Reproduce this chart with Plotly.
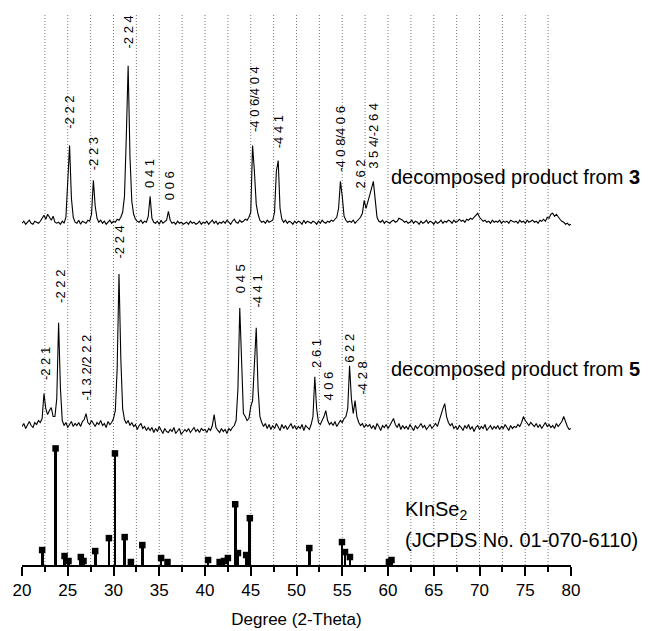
import numpy as np
import plotly.graph_objects as go

# ---------------- data ----------------
two_theta = np.round(np.arange(20.0, 80.001, 0.2), 1)

# pattern of decomposed product from 3 (intensity, arbitrary units)
product3 = [
    3, 5, 2, 4, 6, 3, 2, 5, 4, 3,            # 20.0-21.8
    5, 8, 11, 7, 12, 9, 6, 10, 4, 3,         # 22.0-23.8
    4, 2, 5, 3, 9, 45, 81, 28, 9, 4,         # 24.0-25.8
    3, 6, 2, 5, 4, 3, 6, 5, 12, 46,          # 26.0-27.8
    20, 8, 4, 6, 3, 5, 2, 4, 6, 3,           # 28.0-29.8
    5, 4, 7, 6, 9, 14, 30, 90, 161, 70,      # 30.0-31.8
    25, 12, 7, 5, 4, 6, 3, 5, 4, 10,         # 32.0-33.8
    30, 8, 4, 3, 5, 2, 6, 3, 5, 6,           # 34.0-35.8
    15, 6, 3, 4, 2, 5, 3, 4, 2, 3,           # 36.0-37.8
    4, 2, 5, 3, 4, 2, 3, 5, 2, 4,            # 38.0-39.8
    3, 5, 2, 4, 6, 3, 5, 2, 4, 3,            # 40.0-41.8
    5, 3, 6, 4, 2, 5, 7, 4, 3, 6,            # 42.0-43.8
    4, 5, 7, 6, 9, 14, 81, 55, 22, 12,       # 44.0-45.8
    6, 4, 5, 3, 6, 4, 5, 6, 14, 55,          # 46.0-47.8
    66, 18, 7, 4, 6, 3, 5, 4, 2, 5,          # 48.0-49.8
    3, 5, 4, 2, 6, 3, 5, 4, 3, 5,            # 50.0-51.8
    4, 2, 5, 3, 6, 4, 3, 5, 4, 6,            # 52.0-53.8
    5, 7, 9, 18, 45, 30, 10, 6, 4, 5,        # 54.0-55.8
    4, 6, 3, 5, 7, 9, 13, 26, 18, 24,        # 56.0-57.8
    30, 38, 45, 25, 9, 5, 4, 6, 3, 5,        # 58.0-59.8
    4, 3, 5, 6, 4, 5, 8, 7, 6, 4,            # 60.0-61.8
    5, 3, 4, 6, 3, 5, 4, 2, 5, 3,            # 62.0-63.8
    4, 6, 3, 5, 4, 2, 5, 3, 4, 6,            # 64.0-65.8
    3, 5, 4, 6, 5, 3, 6, 4, 5, 7,            # 66.0-67.8
    5, 6, 4, 7, 6, 8, 7, 9, 11, 13,          # 68.0-69.8
    9, 7, 5, 6, 4, 5, 3, 6, 4, 5,            # 70.0-71.8
    4, 6, 3, 5, 4, 5, 3, 6, 5, 4,            # 72.0-73.8
    5, 3, 6, 4, 5, 3, 6, 4, 5, 6,            # 74.0-75.8
    4, 5, 3, 6, 5, 7, 5, 9, 8, 12,           # 76.0-77.8
    13, 10, 12, 9, 7, 5, 4, 2, 3, 1,         # 78.0-79.8
    2,                                       # 80.0
]

# pattern of decomposed product from 5
product5 = [
    2, 5, 0, 4, 7, 3, 1, 6, 4, 8,            # 20.0
    6, 10, 35, 20, 14, 18, 21, 12, 12, 30,   # 22.0
    106, 40, 8, 3, 6, 1, 4, 7, 2, 5,         # 24.0
    3, 6, 2, 7, 9, 15, 6, 4, 8, 5,           # 26.0
    2, 6, 4, 8, 3, 5, 1, 7, 4, 6,            # 28.0
    10, 18, 60, 155, 70, 20, 9, 5, 8, 3,     # 30.0
    6, 2, 4, -1, 3, 5, 0, 2, -2, 1,          # 32.0
    -2, 1, -4, 0, -3, 2, -1, -5, 0, -3,      # 34.0
    -4, -1, -3, 1, -5, -2, 0, -6, -3, -1,    # 36.0
    -3, 0, -4, -2, 1, -3, -1, -4, 0, -2,     # 38.0
    -1, -4, 0, -2, 3, 14, 1, -2, -4, 0,      # 40.0
    -3, -1, -5, 0, -2, 1, 3, 8, 40, 121,     # 42.0
    60, 15, 12, 8, 10, 22, 28, 60, 101, 40,  # 44.0
    12, 6, 2, 5, 0, 4, -1, 3, 0, 5,          # 46.0
    1, -2, 4, 0, 3, -1, 2, 5, 0, 3,          # 48.0
    -1, 2, 0, 4, -2, 3, 1, -1, 4, 12,        # 50.0
    52, 20, 6, 4, 8, 12, 18, 8, 4, 6,        # 52.0
    3, 7, 2, 5, 8, 6, 10, 12, 20, 63,        # 54.0
    30, 15, 28, 12, 6, 3, 5, 1, 4, 2,        # 56.0
    4, 0, 3, -1, 5, 2, -2, 3, 1, 4,          # 58.0
    0, 3, 6, 10, 4, 1, 5, -1, 3, 0,          # 60.0
    2, -1, 4, 1, -2, 3, 0, 2, 5, 1,          # 62.0
    3, -1, 2, 4, 0, 3, 5, 2, 9, 14,          # 64.0
    20, 25, 12, 6, 3, 5, 0, 2, -1, 3,        # 66.0
    1, -2, 3, 0, 4, -1, 2, -3, 1, 3,         # 68.0
    -1, 2, 0, 4, -2, 1, 3, -1, 2, 0,         # 70.0
    3, -1, 2, 0, 4, 1, -2, 3, 0, 2,          # 72.0
    1, 4, 2, 6, 12, 8, 5, 3, 6, 4,           # 74.0
    2, 5, 1, 4, 0, 3, 6, 2, 4, 1,            # 76.0
    3, 0, 5, 2, 4, 7, 12, 6, 2, -1,          # 78.0
    0,                                       # 80.0
]

# KInSe2 reference (JCPDS No. 01-070-6110)
ref_two_theta = [22.2, 23.67, 24.65, 25.08, 26.43, 26.72, 28.0, 29.5, 30.16,
                 31.22, 31.9, 33.15, 35.2, 35.9, 40.34, 41.6, 42.08, 42.5,
                 43.3, 43.6, 44.5, 44.9, 51.4, 54.97, 55.3, 55.84, 60.1, 60.38]
ref_intensity = [15, 117, 9, 4, 8, 4, 14, 27, 112,
                 28, 3, 20, 7, 3, 5, 3, 4, 7,
                 61, 12, 10, 47, 17, 23, 13, 8, 3, 5]

# peak indexing labels
labels3 = ["-2 2 2", "-2 2 3", "-2 2 4", "0 4 1", "0 0 6", "-4 0 6/4 0 4",
           "-4 4 1", "-4 0 8/4 0 6", "2 6 2", "3 5 4/-2 6 4"]
labels3_x = [25.1, 27.9, 31.6, 34.0, 36.1, 45.4, 48.0, 54.8, 57.0, 58.4]
labels3_y = [437, 395, 517, 377, 365, 434, 417, 394, 377, 397]

labels5 = ["-2 2 1", "-2 2 2", "-1 3 2/2 2 2", "-2 2 4", "0 4 5", "-4 4 1",
           "2 6 1", "4 0 6", "6 2 2", "-4 2 8"]
labels5_x = [22.5, 24.2, 27.1, 30.7, 43.9, 45.7, 52.1, 53.5, 55.8, 57.2]
labels5_y = [185, 262, 164, 307, 272, 257, 197, 164, 202, 170]

x_ticks = [20, 25, 30, 35, 40, 45, 50, 55, 60, 65, 70, 75, 80]
grid_positions = [22.5 + 2.5 * k for k in range(23)]

# ---------------- layout constants ----------------
offset3 = 340
offset5 = 137
FONT = "Arial, 'Liberation Sans', sans-serif"

fig = go.Figure()

for gx in grid_positions:
    fig.add_shape(type="line", x0=gx, x1=gx, y0=0, y1=1, yref="paper",
                  line=dict(color="#777777", width=1, dash="1px,2px"), layer="below")

fig.add_trace(go.Scatter(x=two_theta, y=[v + offset3 for v in product3], mode="lines",
                         line=dict(color="black", width=1.1), showlegend=False))
fig.add_trace(go.Scatter(x=two_theta, y=[v + offset5 for v in product5], mode="lines",
                         line=dict(color="black", width=1.1), showlegend=False))

fig.add_trace(go.Bar(x=ref_two_theta, y=ref_intensity, width=0.3,
                     marker=dict(color="black", line=dict(width=0)), showlegend=False))
fig.add_trace(go.Scatter(x=ref_two_theta, y=ref_intensity, mode="markers",
                         marker=dict(symbol="square", size=6.5, color="black"),
                         showlegend=False))

for t, x, y in zip(labels3, labels3_x, labels3_y):
    fig.add_annotation(x=x, y=y, text=t, textangle=-90, showarrow=False,
                       xanchor="center", yanchor="bottom", borderpad=0,
                       font=dict(family=FONT, size=13, color="black"))
for t, x, y in zip(labels5, labels5_x, labels5_y):
    fig.add_annotation(x=x, y=y, text=t, textangle=-90, showarrow=False,
                       xanchor="center", yanchor="bottom", borderpad=0,
                       font=dict(family=FONT, size=13, color="black"))

fig.add_annotation(x=60.2, y=389, text="decomposed product from <b>3</b>", showarrow=False,
                   xanchor="left", yanchor="middle", borderpad=0,
                   font=dict(family=FONT, size=20, color="black"))
fig.add_annotation(x=60.2, y=197, text="decomposed product from <b>5</b>", showarrow=False,
                   xanchor="left", yanchor="middle", borderpad=0,
                   font=dict(family=FONT, size=20, color="black"))
fig.add_annotation(x=61.8, y=55, text="KInSe<sub>2</sub>", showarrow=False,
                   xanchor="left", yanchor="middle", borderpad=0,
                   font=dict(family=FONT, size=20, color="black"))
fig.add_annotation(x=61.8, y=25, text="(JCPDS No. 01-070-6110)", showarrow=False,
                   xanchor="left", yanchor="middle", borderpad=0,
                   font=dict(family=FONT, size=20, color="black"))

fig.update_layout(
    width=644, height=623,
    margin=dict(l=12, r=81, t=5, b=64),
    plot_bgcolor="white", paper_bgcolor="white",
    bargap=0,
    xaxis=dict(range=[20, 80], tickvals=x_ticks, showgrid=False, zeroline=False,
               showline=True, linecolor="black", linewidth=1.5,
               ticks="outside", ticklen=9, tickwidth=1.5, tickcolor="black",
               minor=dict(ticks="outside", ticklen=5, tickwidth=1.5, tickcolor="black",
                          dtick=2.5, tick0=20, showgrid=False),
               tickfont=dict(family=FONT, size=17, color="black"),
               title=dict(text="Degree (2-Theta)", standoff=14,
                          font=dict(family=FONT, size=17, color="black"))),
    yaxis=dict(range=[0, 554], visible=False, showgrid=False, zeroline=False),
)

fig.write_html("out.html")
